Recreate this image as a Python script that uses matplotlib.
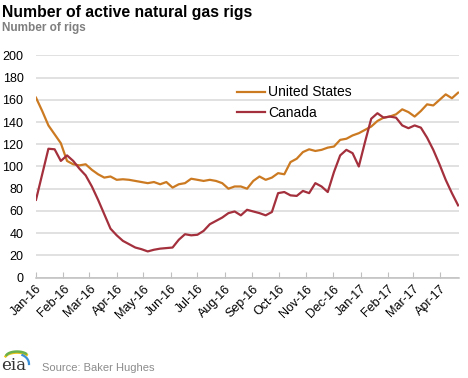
import numpy as np
import pandas as pd

import matplotlib
matplotlib.use('Agg')
import matplotlib.pyplot as plt
import matplotlib.dates as mdates

# weekly rig counts, Jan 1 2016 .. Apr 21 2017
weeks = pd.date_range('2016-01-01', periods=69, freq='W-FRI')
us = [162, 150, 137, 129, 121, 105, 102, 101, 102, 97,
      93, 90, 91, 88, 88.5, 88, 87, 86, 85, 86,
      84, 86, 81, 84, 85, 89, 88, 87, 88, 87,
      85, 80, 82, 82, 80, 87, 91, 88, 90, 94,
      93, 104, 107, 113, 115.5, 114, 115, 117, 118, 124,
      125, 128, 130, 133, 136, 141, 144, 145, 147, 151.5,
      149, 145, 150, 156, 155, 160, 165, 161.5, 166.5]
canada = [70, 93, 116, 115.5, 105, 110, 105, 98, 92, 82,
          70, 57, 44, 38, 33, 30, 27, 25.5, 23.5, 25,
          26, 26.5, 27, 34, 39, 38, 38.5, 42, 48, 51,
          54, 58, 59.5, 56, 61, 59.5, 58, 56, 59, 76,
          77, 74, 73.5, 78, 76, 85, 82, 77, 95, 110,
          115, 112, 100, 122, 143, 148, 144, 145, 144, 137,
          134.5, 137, 135, 126, 115, 102, 88, 76, 65]
month_ticks = pd.date_range('2016-01-01', '2017-04-01', freq='MS')
yticks = list(range(0, 201, 20))

us_color = '#cc7a22'
ca_color = '#a3303c'

plt.rcParams['font.family'] = ['Liberation Sans', 'DejaVu Sans']

fig = plt.figure(figsize=(4.68, 3.78), dpi=100)
ax = fig.add_axes([36/468, 1-277.5/378, (459-36)/468, (277.5-55.5)/378])

ax.plot(weeks, us, color=us_color, lw=1.6, label='United States', zorder=3)
ax.plot(weeks, canada, color=ca_color, lw=1.6, label='Canada', zorder=3)

ax.set_ylim(0, 200)
ax.set_yticks(yticks)
ax.set_xlim(pd.Timestamp('2016-01-01'), pd.Timestamp('2017-04-22'))
ax.set_xticks(month_ticks)
ax.xaxis.set_major_formatter(mdates.DateFormatter('%b-%y'))
ax.grid(axis='y', color='#d9d9d9', lw=1.1, zorder=0)
ax.set_axisbelow(True)
for s in ['top', 'right', 'left']:
    ax.spines[s].set_visible(False)
ax.spines['bottom'].set_color('#bfbfbf')
ax.spines['bottom'].set_linewidth(1.1)
ax.tick_params(axis='y', length=0, labelsize=9, pad=9, labelcolor='#000000')
ax.tick_params(axis='x', direction='in', length=4, color='#bfbfbf',
               labelsize=9, pad=4)
for lab in ax.get_xticklabels():
    lab.set_rotation(45)
    lab.set_ha('right')
    lab.set_rotation_mode('anchor')

ax.legend(loc='upper left', bbox_to_anchor=(0.462, 0.89), frameon=False,
          fontsize=10, handlelength=2.0, handletextpad=0.25, labelspacing=0.45,
          borderaxespad=0)

fig.text(0.005, 0.967, 'Number of active natural gas rigs', fontsize=11.3,
         fontweight='bold', va='center', ha='left')
fig.text(0.005, 0.927, 'Number of rigs', fontsize=8.5, fontweight='bold',
         color='#7f7f7f', va='center', ha='left')
fig.text(42/468, 1-368/378, 'Source: Baker Hughes', fontsize=8,
         color='#8c8c8c', va='center', ha='left')

# small eia logo
lax = fig.add_axes([0, 0, 36/468, 40/378])
lax.set_xlim(0, 36)
lax.set_ylim(40, 0)
lax.axis('off')
lax.text(1, 28, 'eia', family='DejaVu Serif', fontsize=12, color='#333333',
         va='center', ha='left')
t = np.linspace(0.2, 0.9, 40) * np.pi
for r, c, dy in [(12, '#f0c419', 0.0), (11, '#6ab04c', -1.5)]:
    lax.plot(17 + r*np.cos(t), 20 + dy - r*0.45*np.sin(t), color=c, lw=1.8)
lax.plot(17 + 12*np.cos(np.linspace(0.0, 0.35, 20)*np.pi),
         26 - 10*np.sin(np.linspace(0.0, 0.35, 20)*np.pi),
         color='#3a8fd6', lw=1.6)

fig.savefig('out.png', dpi=100)
